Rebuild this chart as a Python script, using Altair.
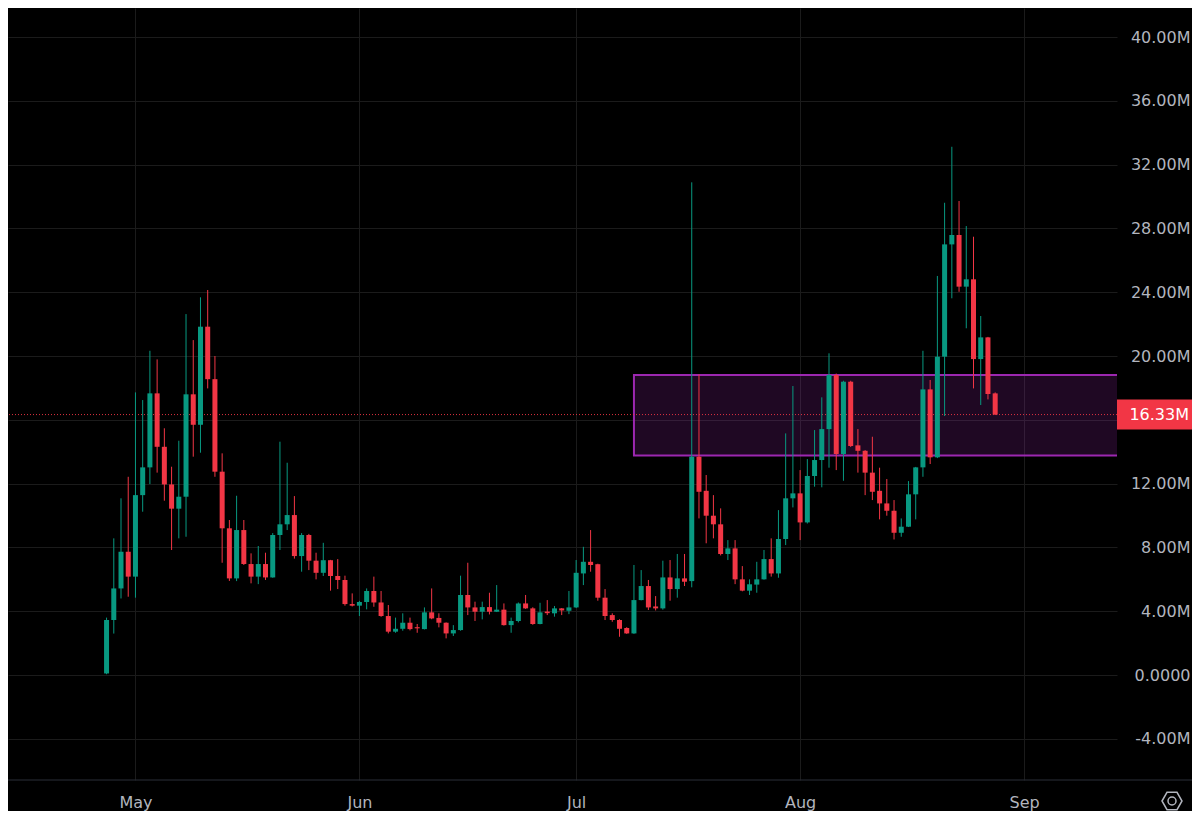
import altair as alt
import pandas as pd

# ---------------- data (values in millions) ----------------
dates = pd.date_range("2024-04-27", "2024-08-28", freq="D").strftime("%Y-%m-%d").tolist()

opens = [0.10, 3.45, 5.43, 7.73, 6.17, 11.28, 13.02, 17.66, 14.31, 11.95,
         10.43, 11.18, 17.60, 15.69, 21.84, 18.55, 12.75, 9.20, 6.06, 9.09,
         6.96, 6.17, 6.96, 6.12, 8.78, 9.45, 10.03, 7.46, 8.78, 7.17,
         6.41, 7.20, 6.21, 5.96, 4.45, 4.35, 4.58, 5.27, 4.55, 3.70,
         2.72, 2.90, 3.28, 3.00, 2.88, 3.93, 3.58, 3.28, 2.61, 2.82,
         5.02, 4.24, 3.97, 4.26, 3.97, 4.10, 3.13, 3.39, 4.49, 4.18,
         3.20, 3.98, 3.87, 4.18, 4.03, 4.24, 6.37, 7.10, 6.95, 4.85,
         3.76, 3.45, 2.95, 2.61, 4.70, 5.58, 4.30, 4.18, 6.12, 5.39,
         6.06, 5.89, 13.69, 11.55, 9.99, 9.45, 7.59, 7.94, 6.00, 5.29,
         5.67, 6.00, 7.27, 6.37, 8.53, 11.08, 11.39, 9.57, 12.48, 13.48,
         15.42, 18.81, 13.86, 18.39, 14.40, 14.06, 12.69, 11.55, 10.76, 10.30,
         8.92, 9.30, 11.33, 13.02, 17.91, 13.65, 19.96, 27.00, 27.59, 24.35,
         24.81, 19.81, 21.17, 17.66]

highs = [3.60, 8.57, 11.08, 12.43, 17.72, 17.24, 20.33, 19.79, 15.47, 13.06,
         14.69, 22.63, 21.00, 23.68, 24.14, 20.00, 13.90, 9.72, 11.24, 9.72,
         7.63, 8.09, 7.67, 8.90, 14.63, 13.31, 11.22, 8.90, 8.85, 7.67,
         8.29, 7.22, 7.27, 6.23, 5.12, 4.65, 5.43, 6.17, 5.27, 4.39,
         3.60, 3.87, 3.60, 3.20, 4.24, 5.43, 3.87, 3.30, 3.13, 6.23,
         7.04, 4.60, 4.60, 5.16, 5.64, 4.49, 3.60, 4.55, 5.02, 4.25,
         4.53, 4.70, 4.33, 4.20, 5.27, 7.21, 8.04, 9.09, 6.98, 5.39,
         3.87, 3.50, 3.00, 6.90, 6.58, 5.96, 4.95, 7.17, 7.21, 7.59,
         7.59, 30.89, 18.85, 12.54, 11.28, 10.45, 8.46, 8.46, 6.83, 6.00,
         7.10, 7.84, 8.57, 10.34, 15.15, 18.12, 12.85, 13.54, 15.36, 17.41,
         20.17, 18.90, 18.45, 18.45, 15.42, 14.10, 14.94, 13.00, 12.29, 10.97,
         9.82, 12.16, 13.05, 20.33, 18.50, 25.02, 29.61, 33.12, 29.72, 28.15,
         27.48, 22.51, 21.20, 17.72]

lows = [0.05, 2.60, 4.80, 4.91, 4.85, 10.24, 11.97, 12.69, 10.93, 7.84,
        8.57, 8.67, 13.69, 13.94, 17.97, 12.43, 7.04, 5.90, 5.89, 6.90,
        5.75, 5.70, 5.96, 6.10, 7.84, 9.09, 7.30, 6.48, 6.58, 6.00,
        6.21, 5.29, 5.39, 4.35, 4.30, 3.70, 4.12, 4.28, 3.65, 2.61,
        2.65, 2.78, 2.80, 2.65, 2.86, 3.50, 2.99, 2.30, 2.45, 2.78,
        3.76, 3.39, 3.49, 3.80, 3.95, 3.10, 2.65, 3.30, 4.15, 3.15,
        3.18, 3.76, 3.66, 3.76, 3.82, 4.20, 5.64, 6.48, 4.66, 3.45,
        3.34, 2.40, 2.58, 2.58, 4.68, 4.08, 4.05, 4.10, 4.66, 4.85,
        5.58, 5.50, 9.82, 8.26, 8.57, 7.50, 7.21, 5.70, 5.25, 5.02,
        5.16, 5.98, 6.17, 6.10, 8.15, 10.51, 8.46, 9.50, 11.81, 11.77,
        13.00, 12.85, 12.18, 14.30, 12.69, 11.28, 10.97, 9.76, 9.99, 8.50,
        8.67, 9.28, 9.76, 12.43, 13.23, 13.60, 16.24, 23.62, 24.03, 21.74,
        17.97, 16.93, 17.28, 16.30]

closes = [3.45, 5.43, 7.73, 6.17, 11.28, 13.02, 17.66, 14.31, 11.95, 10.43,
          11.18, 17.60, 15.69, 21.84, 18.55, 12.75, 9.20, 6.06, 9.09, 6.96,
          6.17, 6.96, 6.12, 8.78, 9.45, 10.03, 7.46, 8.78, 7.17, 6.41,
          7.20, 6.21, 5.96, 4.45, 4.35, 4.58, 5.27, 4.55, 3.70, 2.72,
          2.90, 3.28, 2.88, 2.93, 3.93, 3.55, 3.28, 2.61, 2.82, 5.02,
          4.24, 3.97, 4.26, 3.97, 4.10, 3.13, 3.39, 4.49, 4.18, 3.20,
          3.93, 3.88, 4.18, 4.05, 4.24, 6.41, 7.10, 6.90, 4.85, 3.70,
          3.45, 2.90, 2.61, 4.70, 5.58, 4.24, 4.18, 6.12, 5.39, 6.06,
          5.85, 13.69, 11.49, 9.99, 9.45, 7.59, 7.94, 6.00, 5.29, 5.69,
          6.00, 7.27, 6.37, 8.53, 11.08, 11.39, 9.57, 12.48, 13.48, 15.42,
          18.81, 13.86, 18.39, 14.36, 14.06, 12.69, 11.49, 10.76, 10.30, 8.92,
          9.30, 11.33, 13.02, 17.91, 13.65, 19.96, 27.00, 27.59, 24.35, 24.81,
          19.81, 21.17, 17.62, 16.33]

month_ticks = ["2024-05-01", "2024-06-01", "2024-07-01", "2024-08-01", "2024-09-01"]
month_names = ["May", "Jun", "Jul", "Aug", "Sep"]
y_ticks = [-4, 0, 4, 8, 12, 16, 20, 24, 28, 32, 36, 40]
hidden_tick = 16  # covered by the last-price label in the reference

zone_start = "2024-07-09"
zone_end = "2024-09-30"
zone_top = 18.81
zone_bottom = 13.77

last_price = closes[-1]

# ---------------- styling ----------------
UP = "#089981"
DOWN = "#f23645"
BG = "#000000"
GRID = "#1b1b1b"
TEXT = "#b2b5be"
ZONE = "#9c27b0"
FONT = "DejaVu Sans"
FS = 16

origin = pd.Timestamp("2024-05-01")


def day_of(s):
    return (pd.Timestamp(s) - origin).days


df = pd.DataFrame({"date": dates, "open": opens, "high": highs, "low": lows, "close": closes})
df["day"] = [day_of(d) for d in dates]

tick_days = [day_of(d) for d in month_ticks]
label_expr = "''"
for d, n in reversed(list(zip(tick_days, month_names))):
    label_expr = f"datum.value == {d} ? '{n}' : ({label_expr})"

y_label_expr = (f"datum.value == {hidden_tick} ? '' : datum.value == 0 ? '0.0000' : "
                "(datum.value < 0 ? '-' : '') + format(abs(datum.value), '.2f') + 'M'")

zone_df = pd.DataFrame({"x0": [day_of(zone_start)], "x1": [day_of(zone_end)],
                        "top": [zone_top], "bottom": [zone_bottom]})
price_df = pd.DataFrame({"price": [last_price], "label": [f"{last_price:.2f}M"]})
one = pd.DataFrame({"k": [0]})

W, H = 1109, 772
x_scale = alt.Scale(domain=[-16.95, 135.17], nice=False, zero=False)
y_scale = alt.Scale(domain=[-6.58, 41.82], nice=False, zero=False)

color_cond = alt.condition("datum.close >= datum.open", alt.value(UP), alt.value(DOWN))

x_axis = alt.Axis(values=tick_days, labelExpr=label_expr, title=None, domain=False,
                  ticks=False, tickSize=0, grid=True, gridColor=GRID, gridWidth=1,
                  labelColor=TEXT, labelFont=FONT, labelFontSize=FS, labelPadding=22,
                  labelBaseline="middle", labelFlush=False, labelOverlap=False, zindex=0)
y_axis = alt.Axis(orient="right", values=y_ticks, labelExpr=y_label_expr,
                  title=None, domain=False, ticks=False, tickSize=0, grid=True,
                  gridColor=GRID, gridWidth=1, labelColor=TEXT, labelFont=FONT,
                  labelFontSize=FS, labelAlign="right", labelPadding=73,
                  labelFlush=False, labelOverlap=False, zindex=0)


def X(field):
    return alt.X(field, scale=x_scale, axis=x_axis, title=None)


def Y(field):
    return alt.Y(field, scale=y_scale, axis=y_axis, title=None)


zone = alt.Chart(zone_df).mark_rect(
    clip=True, fill=ZONE, fillOpacity=0.2, stroke=ZONE, strokeWidth=2
).encode(x=X("x0:Q"), x2="x1:Q", y=Y("top:Q"), y2="bottom:Q")

price_line = alt.Chart(price_df).mark_rule(
    color=DOWN, strokeWidth=1, strokeDash=[1, 2], opacity=0.9
).encode(y=Y("price:Q"))

wicks = alt.Chart(df).mark_rule(strokeWidth=1).encode(
    x=X("day:Q"), y=Y("low:Q"), y2="high:Q", color=color_cond
)

bodies = alt.Chart(df).mark_bar(size=5).encode(
    x=X("day:Q"), y=Y("open:Q"), y2="close:Q", color=color_cond
)

price_box = alt.Chart(price_df).mark_point(
    shape="M-1,-0.4L1,-0.4L1,0.4L-1,0.4Z", size=5625, filled=True, fill=DOWN,
    opacity=1, strokeWidth=0
).encode(x=alt.value(1146.5), y=Y("price:Q"))

price_text = alt.Chart(price_df).mark_text(
    align="right", baseline="middle", color="#ffffff", font=FONT, fontSize=FS
).encode(x=alt.value(1181), y=Y("price:Q"), text="label:N")

separator = alt.Chart(one).mark_rule(color="#2a2e39", strokeWidth=1).encode(
    x=alt.value(0), x2=alt.value(1184), y=alt.value(H)
)

gear_hex = alt.Chart(one).mark_point(
    shape="M-1,0L-0.5,-0.866L0.5,-0.866L1,0L0.5,0.866L-0.5,0.866Z", size=400,
    filled=False, stroke=TEXT, strokeWidth=1.5, opacity=1
).encode(x=alt.value(1164), y=alt.value(793))

gear_dot = alt.Chart(one).mark_point(
    shape="circle", size=64, filled=False, stroke=TEXT, strokeWidth=1.5, opacity=1
).encode(x=alt.value(1164), y=alt.value(793))

chart = alt.layer(
    zone, price_line, wicks, bodies, price_box, price_text, separator, gear_hex, gear_dot
).properties(
    width=W, height=H,
    autosize=alt.AutoSizeParams(type="none"),
    padding={"left": 0, "top": 0, "right": 75, "bottom": 31},
    background=BG,
).configure_view(strokeWidth=0)

chart.save("out.html", embed_options={"renderer": "svg", "actions": False})
